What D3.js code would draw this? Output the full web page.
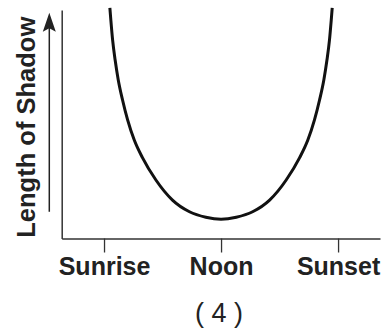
<!DOCTYPE html>
<html>
<head>
<meta charset="utf-8">
<script src="https://cdn.jsdelivr.net/npm/d3@7"></script>
<style>
  html, body { margin: 0; padding: 0; background: #fff; }
  svg { display: block; font-family: "Liberation Sans", Arial, sans-serif; }
</style>
</head>
<body>
<div id="chart"></div>
<script>
// hours of the day (noon = 12) and relative shadow length
const hours = [6.30, 6.35, 6.44, 6.57, 6.73, 6.95, 7.21, 7.55, 7.97, 8.66, 9.51, 10.38, 11.22, 12,
               12.78, 13.62, 14.49, 15.34, 16.03, 16.45, 16.79, 17.05, 17.27, 17.43, 17.56, 17.65, 17.70];
const shadow = [100.9, 95.6, 86.9, 78.1, 69.4, 60.6, 51.9, 43.1, 35.4, 25.6, 16.8, 11.7, 9.3, 8.4,
                9.3, 11.7, 16.8, 25.6, 35.4, 43.1, 51.9, 60.6, 69.4, 78.1, 86.9, 95.6, 100.9];

const tickHours = [6, 12, 18];
const tickLabels = ['Sunrise', 'Noon', 'Sunset'];
const yLabel = 'Length of Shadow';
const caption = '( 4 )';

const width = 383, height = 333;
const ink = '#222';

const svg = d3.select('#chart').append('svg')
  .attr('width', width)
  .attr('height', height);

// x: 19.5 px per hour, noon at 221.5
const x = d3.scaleLinear()
  .domain([3.83, 20.15])
  .range([61.7, 380]);

const y = d3.scaleLinear()
  .domain([0, 100])
  .range([238.5, 10]);

// bottom axis
const xAxis = svg.append('g')
  .attr('transform', `translate(0,${y(0)})`)
  .call(d3.axisBottom(x)
    .tickValues(tickHours)
    .tickFormat((d, i) => tickLabels[i])
    .tickSize(14)
    .tickSizeOuter(0)
    .tickPadding(5));

xAxis.select('.domain').attr('stroke', '#333').attr('stroke-width', 1.5);
xAxis.selectAll('.tick line').attr('stroke', '#333').attr('stroke-width', 1.3);
xAxis.selectAll('.tick text')
  .attr('font-family', '"Liberation Sans", Arial, sans-serif')
  .attr('font-size', 25)
  .attr('font-weight', 'bold')
  .attr('fill', ink);

// left axis, no ticks
const yAxis = svg.append('g')
  .attr('transform', `translate(${x.range()[0]},0)`)
  .call(d3.axisLeft(y).tickValues([]).tickSizeOuter(0));

yAxis.select('.domain').attr('stroke', '#333').attr('stroke-width', 1.5);

// the shadow curve
const line = d3.line()
  .x((d, i) => x(hours[i]))
  .y(d => y(d))
  .curve(d3.curveMonotoneX);

svg.append('path')
  .datum(shadow)
  .attr('d', line)
  .attr('fill', 'none')
  .attr('stroke', '#111')
  .attr('stroke-width', 3);

// arrow alongside the y axis
const arrowX = 49.3;
const tipY = y(98.8), baseY = y(11.7);

svg.append('line')
  .attr('x1', arrowX).attr('x2', arrowX)
  .attr('y1', baseY).attr('y2', tipY + 14)
  .attr('stroke', ink)
  .attr('stroke-width', 1.5);

svg.append('path')
  .attr('d', `M${arrowX},${tipY} L${arrowX + 6.5},${tipY + 19} L${arrowX},${tipY + 15.5} L${arrowX - 6.5},${tipY + 19} Z`)
  .attr('fill', ink);

// y label
svg.append('text')
  .attr('transform', `translate(35,${(y(0) + y(100)) / 2 + 3}) rotate(-90)`)
  .attr('text-anchor', 'middle')
  .attr('font-size', 25.5)
  .attr('font-weight', 'bold')
  .attr('fill', ink)
  .text(yLabel);

// caption
svg.append('text')
  .attr('x', x(12) - 2)
  .attr('y', 322)
  .attr('text-anchor', 'middle')
  .attr('font-size', 27)
  .attr('fill', ink)
  .text(caption);
</script>
</body>
</html>
